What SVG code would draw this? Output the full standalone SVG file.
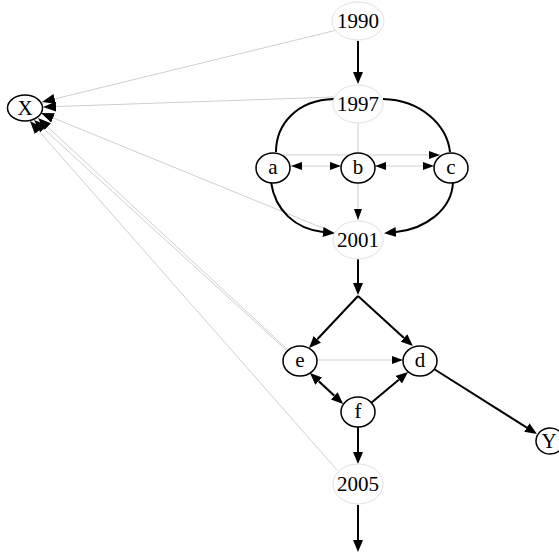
<svg xmlns="http://www.w3.org/2000/svg" width="559" height="555" viewBox="0 0 559 555">
<style>
.bg{fill:#fff}
.yr ellipse{fill:#fff;stroke:#e0e0e0;stroke-width:1}
.nd ellipse{fill:#fff;stroke:#000;stroke-width:1.5}
text{font-family:"Liberation Serif","Times New Roman",serif;font-size:21px;text-anchor:middle;fill:#000}
.blk{fill:none;stroke:#000;stroke-width:2}
.gry{fill:none;stroke:#cfcfcf;stroke-width:1}
.blk.a{marker-end:url(#ab)}
.gry.a{marker-end:url(#ag)}
.gry.x{marker-end:url(#ax)}
.gry.aa{marker-start:url(#ag);marker-end:url(#ag)}
.blk.aa{marker-start:url(#ab);marker-end:url(#ab)}
</style>
<defs>
<marker id="ab" viewBox="0 0 12 10" refX="0" refY="5" markerWidth="12" markerHeight="10" markerUnits="userSpaceOnUse" orient="auto-start-reverse"><path d="M0,0 L12,5 L0,10 z" fill="#000"/></marker>
<marker id="ag" viewBox="0 0 11 8" refX="11" refY="4" markerWidth="11" markerHeight="8" markerUnits="userSpaceOnUse" orient="auto-start-reverse"><path d="M0,0 L11,4 L0,8 z" fill="#000"/></marker>
<marker id="ax" viewBox="0 0 13 10" refX="13" refY="5" markerWidth="13" markerHeight="10" markerUnits="userSpaceOnUse" orient="auto"><path d="M0,0 L13,5 L0,10 z" fill="#000"/></marker>
</defs>
<rect class="bg" x="0" y="0" width="559" height="555"/>
<g id="edges">
<path class="gry x" d="M337,30 L42,102"/>
<path class="gry x" d="M334,97 L43,107"/>
<path class="gry x" d="M335,233 L41,113"/>
<path class="gry x" d="M287,349 L38,118"/>
<path class="gry x" d="M343,402 L34,120"/>
<path class="gry x" d="M337,470 L30,121"/>
<path class="gry" d="M358,123 L358,152"/>
<path class="gry a" d="M358,182 L358,220"/>
<path class="gry a" d="M283,155 L440,155"/>
<path class="gry aa" d="M291,166 L341,166"/>
<path class="gry aa" d="M375,166 L434,166"/>
<path class="gry a" d="M317,360 L403,360"/>
<path class="blk a" d="M358,41 L358,72"/>
<path class="blk" d="M334,99 C296,100 276,125 276,152"/>
<path class="blk" d="M383,99 C421,100 447,125 450,152"/>
<path class="blk a" d="M271,182 C275,210 295,229 323,232"/>
<path class="blk a" d="M453,182 C452,210 425,229 396,232"/>
<path class="blk a" d="M358,259 L358,283"/>
<path class="blk a" d="M358,296 L317.3,339.3"/>
<path class="blk a" d="M358,296 L404,338"/>
<path class="blk aa" d="M318.7,381.2 L334.3,395.8"/>
<path class="blk a" d="M371,403 L398.8,379.7"/>
<path class="blk a" d="M358,427 L358,452"/>
<path class="blk a" d="M434,369 L526.8,427.6"/>
<path class="blk a" d="M358,505 L358,540"/>
</g>
<g id="n1990" class="yr"><ellipse cx="358" cy="21" rx="26" ry="19"/><text x="358" y="28">1990</text></g>
<g id="n1997" class="yr"><ellipse cx="358" cy="104" rx="25" ry="19"/><text x="358" y="111">1997</text></g>
<g id="n2001" class="yr"><ellipse cx="358" cy="240" rx="25" ry="19"/><text x="358" y="247">2001</text></g>
<g id="n2005" class="yr"><ellipse cx="358" cy="484" rx="25" ry="20"/><text x="358" y="491">2005</text></g>
<g id="nX" class="nd"><ellipse cx="25" cy="108" rx="17.5" ry="13"/><text x="25" y="115">X</text></g>
<g id="nY" class="nd"><ellipse cx="550" cy="441" rx="14" ry="13"/><text x="549" y="448">Y</text></g>
<g id="na" class="nd"><ellipse cx="273" cy="168" rx="17" ry="15"/><text x="273" y="174">a</text></g>
<g id="nb" class="nd"><ellipse cx="358" cy="168" rx="17" ry="15"/><text x="358" y="174">b</text></g>
<g id="nc" class="nd"><ellipse cx="451" cy="168" rx="17" ry="15"/><text x="451" y="174">c</text></g>
<g id="ne" class="nd"><ellipse cx="300" cy="361" rx="17" ry="15"/><text x="300" y="367">e</text></g>
<g id="nd" class="nd"><ellipse cx="420" cy="361" rx="17" ry="15"/><text x="420" y="367">d</text></g>
<g id="nf" class="nd"><ellipse cx="358" cy="412" rx="17" ry="15"/><text x="358" y="418">f</text></g>
</svg>
